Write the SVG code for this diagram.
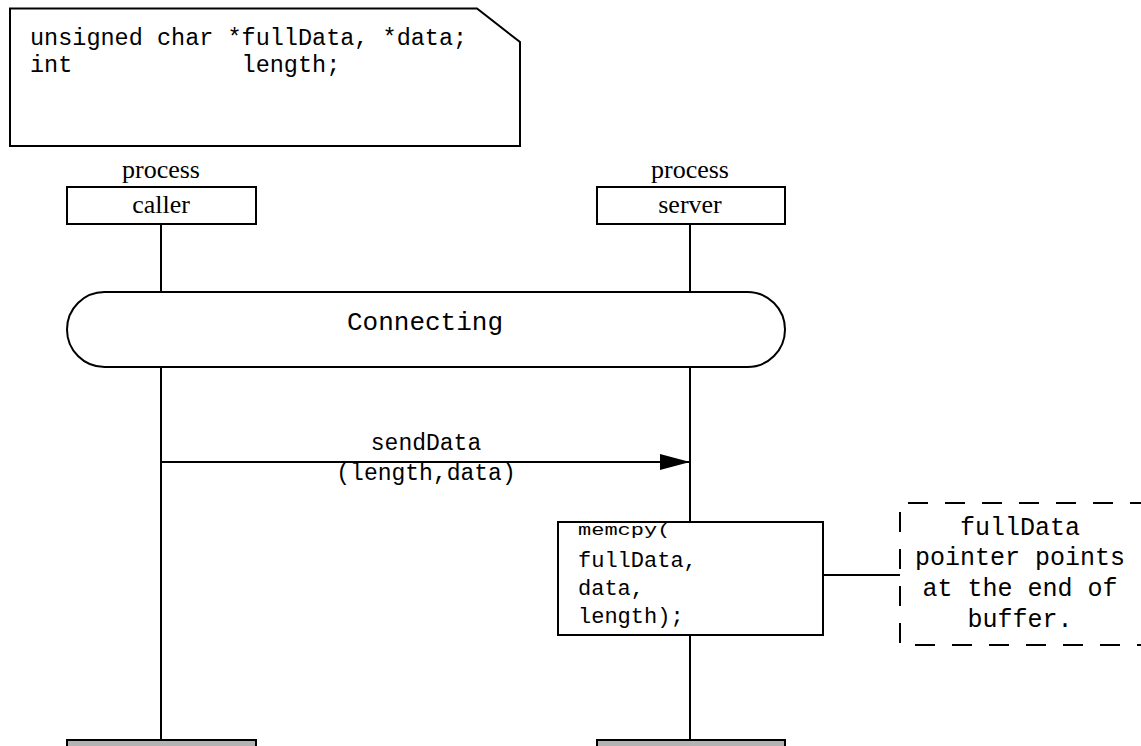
<svg xmlns="http://www.w3.org/2000/svg" width="1141" height="746" viewBox="0 0 1141 746">
<style>
.ln{stroke:#000;stroke-width:2;fill:none}
.box{stroke:#000;stroke-width:2;fill:#fff}
.mono{font-family:"Liberation Mono","Courier New",monospace;fill:#000}
.serif{font-family:"Liberation Serif","Times New Roman",serif;font-size:26px;fill:#000;text-anchor:middle}
.end{fill:#b3b3b3;stroke:#000;stroke-width:2}
</style>
<defs>
<marker id="arr" viewBox="0 0 30 16" refX="30" refY="8" markerWidth="30" markerHeight="16" markerUnits="userSpaceOnUse" orient="auto">
<path d="M0,0 L30,8 L0,16 Z" fill="#000"/>
</marker>
</defs>
<rect width="1141" height="746" fill="#fff"/>
<g id="declarations">
<path class="box" d="M10,8.5 L477,8.5 L520,42 L520,146 L10,146 Z"/>
<text class="mono" font-size="23.5" x="30" y="45" xml:space="preserve">unsigned char *fullData, *data;</text>
<text class="mono" font-size="23.5" x="30" y="72" xml:space="preserve">int            length;</text>
</g>
<g id="connectors">
<line class="ln" x1="161" y1="224" x2="161" y2="292"/>
<line class="ln" x1="690" y1="224" x2="690" y2="292"/>
<line class="ln" x1="161" y1="367" x2="161" y2="740"/>
<line class="ln" x1="690" y1="367" x2="690" y2="522"/>
<line class="ln" x1="690" y1="635" x2="690" y2="740"/>
<line class="ln" x1="161" y1="462" x2="690" y2="462" marker-end="url(#arr)"/>
<line class="ln" x1="823" y1="575" x2="900" y2="575"/>
</g>
<g id="caller">
<text class="serif" x="161" y="178">process</text>
<rect class="box" x="67" y="187" width="189" height="37"/>
<text class="serif" x="161" y="213">caller</text>
</g>
<g id="server">
<text class="serif" x="690" y="178">process</text>
<rect class="box" x="597" y="187" width="188" height="37"/>
<text class="serif" x="690" y="213">server</text>
</g>
<g id="connecting">
<rect class="box" x="67" y="292" width="718" height="75" rx="37.5" ry="37.5"/>
<text class="mono" font-size="26" x="425" y="330" text-anchor="middle">Connecting</text>
</g>
<g id="sendData">
<text class="mono" font-size="23" x="426" y="450" text-anchor="middle">sendData</text>
<text class="mono" font-size="23" x="426" y="480" text-anchor="middle">(length,data)</text>
</g>
<g id="memcpy">
<rect class="box" x="558" y="522" width="265" height="113"/>
<text class="mono" font-size="22" transform="translate(578,535) scale(1,0.72)">memcpy(</text>
<text class="mono" font-size="22" x="578" y="567">fullData,</text>
<text class="mono" font-size="22" x="578" y="595">data,</text>
<text class="mono" font-size="22" x="578" y="623">length);</text>
</g>
<g id="comment">
<path class="ln" d="M1150,503 L900,503 L900,645 L1150,645" stroke-dasharray="20,17"/>
<text class="mono" font-size="25" x="1020" y="535" text-anchor="middle">fullData</text>
<text class="mono" font-size="25" x="1020" y="565" text-anchor="middle">pointer points</text>
<text class="mono" font-size="25" x="1020" y="596" text-anchor="middle">at the end of</text>
<text class="mono" font-size="25" x="1020" y="627" text-anchor="middle">buffer.</text>
</g>
<g id="caller-end">
<rect class="end" x="67" y="740" width="189" height="20"/>
</g>
<g id="server-end">
<rect class="end" x="597" y="740" width="188" height="20"/>
</g>
</svg>
